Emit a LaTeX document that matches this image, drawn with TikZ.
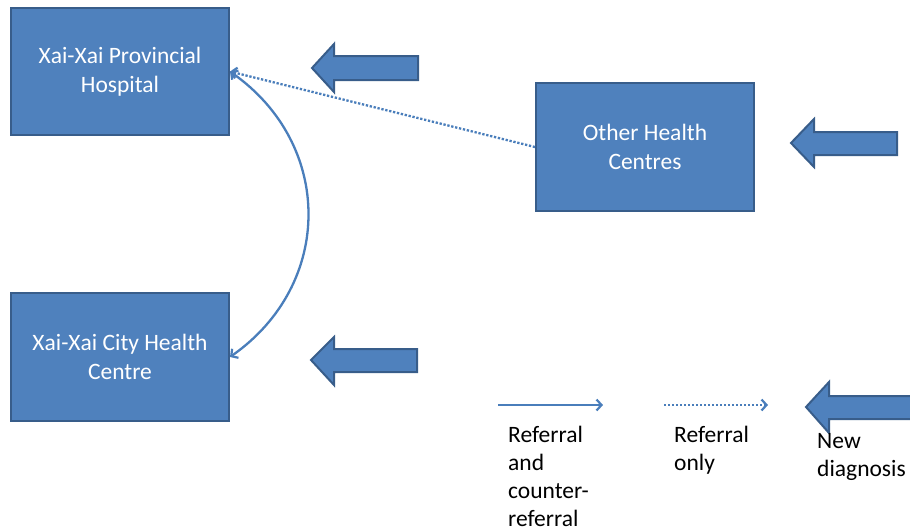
\documentclass[tikz,border=0pt]{standalone}
\usepackage{fontspec}
\setmainfont{Carlito}
\usetikzlibrary{arrows.meta}
\definecolor{boxfill}{HTML}{4F81BD}
\definecolor{boxline}{HTML}{385D8A}
\definecolor{conn}{HTML}{4A7EBB}
\tikzset{
  unitbox/.style={draw=boxline, line width=2pt, fill=boxfill, text=white,
    minimum width=218pt, minimum height=127pt, align=center, inner sep=0pt,
    font=\fontsize{23.5}{28.5}\selectfont},
  blockarrow/.style={draw=boxline, line width=2pt, fill=boxfill, line join=miter},
  conline/.style={draw=conn, line width=2.3pt, -{Straight Barb[length=5pt,width=11pt,line width=2.2pt]}},
  dotline/.style={conline, dash pattern=on 2.3pt off 1.7pt},
  bothline/.style={draw=conn, line width=2.3pt, {Straight Barb[length=5pt,width=11pt,line width=2.2pt]}-{Straight Barb[length=5pt,width=11pt,line width=2.2pt]}},
  legendtext/.style={anchor=north west, inner sep=0pt, align=left,
    font=\fontsize{23.5}{28}\selectfont}
}
\begin{document}
\begin{tikzpicture}[x=1pt,y=-1pt]
\useasboundingbox (0,0) rectangle (910,531);
% boxes
\node[unitbox] (prov) at (120,71.5) {Xai-Xai Provincial\\Hospital};
\node[unitbox, minimum height=128pt] (other) at (645,147) {Other Health\\Centres};
\node[unitbox, minimum height=128pt] (city) at (120,357) {Xai-Xai City Health\\Centre};
% block arrows
\draw[blockarrow] (312,68) -- (334,44) -- (334,56) -- (418,56) -- (418,80) -- (334,80) -- (334,92) -- cycle;
\draw[blockarrow] (791,143) -- (814,119) -- (814,132) -- (897,132) -- (897,155) -- (814,155) -- (814,167) -- cycle;
\draw[blockarrow] (311,360) -- (334,337) -- (334,349) -- (417,349) -- (417,372) -- (334,372) -- (334,385) -- cycle;
\draw[blockarrow] (806,407) -- (829,382) -- (829,396) -- (916,396) -- (916,419) -- (829,419) -- (829,433) -- cycle;
% connectors
\draw[dotline] (other.west) -- (prov.east);
\draw[bothline] (prov.east) to[out=-35,in=35,looseness=1.14] (city.east);
% legend
\coordinate (l1a) at (498,405);
\coordinate (l1b) at (603,405);
\coordinate (l2a) at (664,405);
\coordinate (l2b) at (768,405);
\draw[conline] (l1a) -- (l1b);
\draw[dotline] (l2a) -- (l2b);
\node[legendtext] (t1) at (508,426) {Referral\\and\\counter-\\referral};
\node[legendtext] (t2) at (674,426) {Referral\\only};
\node[legendtext] (t3) at (817,433) {New\\diagnosis};
\end{tikzpicture}
\end{document}
